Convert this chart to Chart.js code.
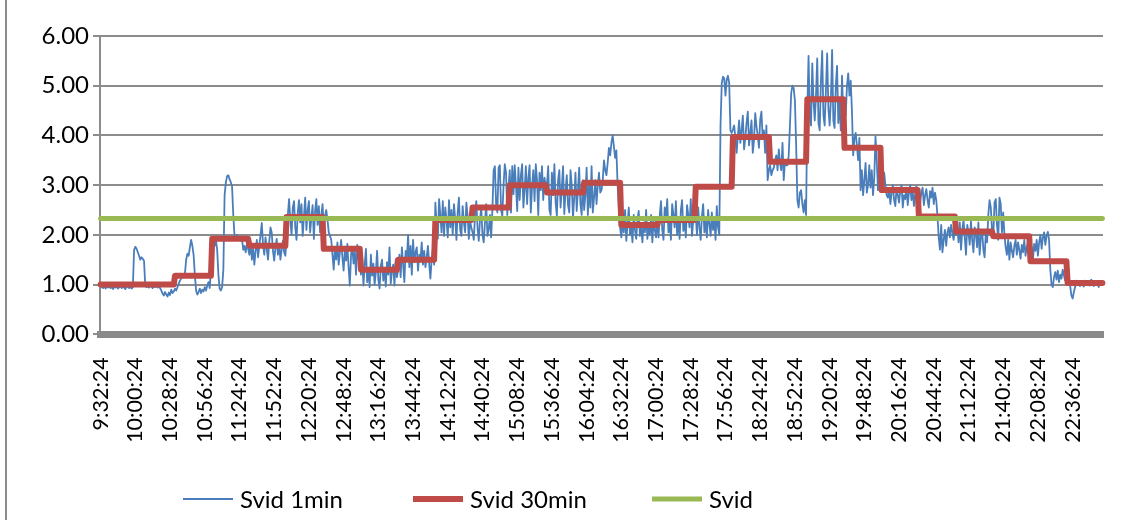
<!DOCTYPE html>
<html>
<head>
<meta charset="utf-8">
<script src="https://cdn.jsdelivr.net/npm/chart.js@4/dist/chart.umd.min.js"></script>
<style>
  html, body { margin: 0; padding: 0; background: #fff; }
  #wrap { position: relative; width: 1129px; height: 520px; }
</style>
</head>
<body>
<div id="wrap"><canvas id="c" width="1129" height="520"></canvas></div>
<script>
// First sample time; one sample per minute after that.
const startTime = '9:32:24';
// A time label is shown every 28 minutes.
const tickEvery = 28;

// Svid, 1-minute values (one row per half hour).
const svid1min = [
  0.98,0.95,0.93,0.97,0.92,0.96,0.94,0.99,0.93,0.95,0.91,0.96,0.94,0.97,0.92,0.95,0.98,0.93,0.96,0.94,0.91,0.97,0.95,0.93,0.96,0.92,0.95,1.70,1.76,1.72,
  1.65,1.58,1.50,1.55,1.52,1.48,0.98,0.95,0.97,0.94,0.99,0.96,0.93,0.97,0.95,0.98,0.94,0.96,0.93,0.88,0.82,0.78,0.85,0.80,0.76,0.84,0.79,0.90,0.83,0.86,
  0.92,0.88,0.95,1.02,1.08,1.12,1.18,1.15,1.22,1.50,1.62,1.58,1.75,1.90,1.78,1.60,1.20,0.88,0.80,0.85,0.92,0.83,0.90,0.86,0.95,0.88,0.98,1.05,0.93,1.30,
  1.65,1.85,1.78,1.90,1.70,1.20,0.92,0.88,0.95,1.30,2.80,3.05,3.18,3.20,3.12,3.06,2.98,2.40,1.98,1.95,2.00,1.92,1.96,1.88,1.94,1.70,1.78,1.65,1.82,1.72,
  1.60,1.85,1.50,1.72,1.40,1.68,1.90,1.55,1.78,2.00,2.24,1.80,1.60,1.95,1.72,1.50,1.85,2.15,2.05,1.68,1.48,1.75,1.92,1.60,1.82,1.50,1.70,1.88,1.65,1.58,
  1.95,2.40,2.72,2.30,2.00,2.55,2.68,2.15,1.90,2.45,2.70,2.25,2.62,1.98,2.38,2.75,2.10,2.50,2.68,2.05,2.35,2.60,1.92,2.48,2.72,2.20,2.58,2.05,2.40,2.62,
  2.15,2.38,2.50,2.30,2.05,1.98,1.90,1.60,1.30,1.75,1.50,1.85,1.40,1.65,1.90,1.55,1.28,1.70,1.48,1.82,1.35,0.98,1.60,1.75,1.42,1.68,1.20,1.80,1.50,1.72,
  1.20,1.55,0.98,1.40,1.72,1.05,1.30,0.95,1.60,1.18,1.42,1.00,1.25,1.68,1.10,0.92,1.38,1.50,1.08,1.32,0.96,1.45,1.20,1.75,1.02,1.28,1.40,0.98,1.50,1.15,
  1.30,1.60,1.15,1.75,1.40,1.05,1.68,1.50,2.00,1.35,1.78,1.20,1.90,1.45,1.65,1.75,1.28,1.60,1.50,1.85,1.40,1.68,1.35,1.55,1.78,1.42,1.12,1.50,1.70,1.40,
  2.65,2.20,1.92,2.72,2.40,2.05,2.68,1.98,2.55,2.30,1.95,2.70,2.15,2.50,2.00,2.62,2.32,1.90,2.45,2.75,2.10,1.98,2.58,2.25,2.05,2.65,2.38,1.92,2.28,2.15,
  2.05,1.90,2.40,2.68,2.15,1.88,2.30,2.55,2.00,1.85,2.25,2.62,1.98,2.10,2.40,1.95,2.50,3.30,3.38,2.62,2.45,3.35,3.40,2.50,2.38,3.00,3.42,3.25,2.40,2.95,
  3.30,2.45,3.38,2.82,3.40,3.00,2.48,3.35,2.70,3.20,3.42,2.55,2.90,3.38,2.62,3.15,3.40,2.45,2.98,3.30,2.68,3.42,3.10,2.40,3.25,2.90,3.38,2.70,3.15,3.00,
  3.00,3.38,2.50,2.40,3.25,2.80,3.42,2.65,2.38,3.10,3.30,2.55,2.95,3.38,2.42,2.88,3.20,2.60,2.45,3.30,3.00,2.35,2.75,3.25,2.48,2.90,3.35,2.62,2.40,3.10,
  2.50,2.80,3.35,2.40,3.00,2.55,3.38,2.45,2.75,3.10,2.62,3.00,3.25,2.85,2.90,3.10,3.50,3.30,3.20,3.45,3.75,3.60,3.85,4.00,3.78,3.55,3.70,3.00,2.50,2.15,
  1.95,2.30,2.05,2.50,1.88,2.22,2.55,2.00,2.15,1.85,2.40,2.10,1.92,2.30,2.48,1.98,2.15,1.85,2.25,2.05,2.50,1.92,2.20,2.00,2.40,1.85,2.28,2.10,1.95,2.35,
  1.95,2.40,2.68,2.10,1.90,2.55,2.30,2.72,2.05,2.25,1.90,2.62,2.40,2.15,2.68,2.00,2.35,1.92,2.50,2.70,2.08,2.32,1.95,2.60,2.40,2.15,2.72,1.98,2.30,2.45,
  2.40,2.00,2.55,2.15,1.90,2.38,2.62,2.05,2.28,1.95,2.50,2.22,1.98,2.45,2.10,2.32,1.90,2.58,2.15,2.00,4.20,5.05,5.18,5.15,4.80,5.12,5.20,5.05,4.10,4.05,
  4.12,4.20,3.95,3.65,4.00,4.30,3.85,4.10,4.40,3.72,3.95,4.25,4.48,3.80,4.05,4.30,3.65,3.90,4.45,4.18,4.00,3.75,4.32,4.48,3.95,4.10,3.65,4.20,3.10,3.30,
  3.40,3.20,3.30,3.35,3.50,3.60,3.30,3.72,3.45,3.30,3.85,3.10,3.50,3.40,3.40,3.60,4.20,4.85,5.00,4.95,4.70,3.80,2.70,2.55,2.85,2.90,2.62,2.45,2.70,2.40,
  4.50,5.60,4.40,4.20,5.45,4.70,4.30,4.80,5.55,4.25,4.10,5.10,5.70,4.40,4.20,4.90,5.65,4.55,4.20,4.70,5.72,4.30,4.15,5.00,5.40,4.25,4.70,4.10,5.20,4.40,
  4.70,4.40,5.00,5.25,4.80,5.10,4.50,3.60,3.95,4.05,3.80,3.50,3.95,2.90,3.30,2.80,3.10,3.45,2.85,3.00,3.40,2.95,3.30,2.80,3.15,3.98,3.50,2.90,3.45,3.00,
  3.60,2.90,3.25,3.00,2.80,2.75,2.90,2.62,2.85,3.00,2.70,2.58,2.95,2.80,2.65,2.90,3.00,2.55,2.80,2.72,2.95,2.60,2.85,3.00,2.70,2.90,2.58,2.82,2.98,2.75,
  2.90,2.65,2.85,2.95,2.60,2.80,2.92,2.70,2.55,2.88,2.75,2.95,2.62,2.85,2.70,2.38,1.95,1.70,2.20,1.65,1.90,2.10,1.78,2.05,2.15,1.95,2.20,2.05,1.90,2.12,
  2.00,2.15,1.85,2.25,1.70,2.10,2.30,1.95,1.60,2.20,2.05,1.80,2.28,1.90,1.65,2.15,2.00,1.75,2.25,1.60,1.95,2.10,1.70,1.55,2.05,1.85,2.40,2.70,2.55,2.10,
  1.95,2.65,2.72,2.20,1.90,2.75,2.62,2.05,2.45,2.00,1.75,1.60,1.90,1.50,1.85,1.68,1.55,1.78,1.90,1.60,1.85,1.70,1.52,1.80,1.65,1.90,1.58,1.75,1.85,1.68,
  1.60,1.75,1.50,1.82,1.68,1.90,1.58,1.85,2.00,1.72,1.95,2.05,1.80,1.98,2.06,1.90,1.30,1.00,0.95,1.15,1.25,1.10,1.28,1.05,1.20,1.12,1.30,1.18,1.08,1.25,
  1.05,1.02,0.98,0.78,0.72,0.85,0.95,1.08,1.00,1.04,0.97,1.06,1.01,0.96,1.08,1.03,0.99,1.05,0.98,1.10,1.02,0.97,1.06,1.00,1.04,0.95,1.02,0.99,1.03
];

// Svid, 30-minute averages (each held for its half hour).
const svid30min = [
  1.00, 1.00, 1.18, 1.92, 1.78, 2.36, 1.72, 1.30, 1.50,
  2.30, 2.55, 3.00, 2.85, 3.05, 2.20, 2.30, 2.97, 3.97,
  3.47, 4.73, 3.75, 2.90, 2.37, 2.07, 1.97, 1.47, 1.03
];
const halfHour = 30;

// Reference Svid level.
const svidLevel = 2.33;

const seriesNames = ['Svid 1min', 'Svid 30min', 'Svid'];
const seriesColors = ['#4A7EBB', '#BE4B48', '#98B954'];

const yMin = 0, yMax = 6, yStep = 1;

function minuteLabels(start, count) {
  const [h, m, s] = start.split(':').map(Number);
  const out = [];
  for (let i = 0; i < count; i++) {
    const t = h * 60 + m + i;
    out.push(Math.floor(t / 60) + ':' + String(t % 60).padStart(2, '0') + ':' + String(s).padStart(2, '0'));
  }
  return out;
}

const n = svid1min.length;
const categories = minuteLabels(startTime, n);
const svid30minSeries = svid30min.flatMap(v => Array(halfHour).fill(v)).slice(0, n);
const svidSeries = categories.map(() => svidLevel);

const FONT = 'Lato';

// White page background and the chart frame edge.
const framePlugin = {
  id: 'frame',
  beforeDraw(chart) {
    const ctx = chart.ctx;
    ctx.save();
    ctx.fillStyle = '#fff';
    ctx.fillRect(0, 0, chart.width, chart.height);
    ctx.strokeStyle = '#8c8c8c';
    ctx.lineWidth = 2;
    ctx.beginPath();
    ctx.moveTo(6, 0);
    ctx.lineTo(6, chart.height);
    ctx.stroke();
    ctx.restore();
  }
};

// Legend row: line sample followed by the series name.
const legendPlugin = {
  id: 'lineLegend',
  afterDraw(chart) {
    const ctx = chart.ctx;
    const slots = [183, 413, 652];
    const y = 499;
    ctx.save();
    chart.data.datasets.forEach((ds, i) => {
      const x = slots[i];
      ctx.strokeStyle = ds.borderColor;
      ctx.lineWidth = ds.borderWidth;
      ctx.lineCap = 'butt';
      ctx.beginPath();
      ctx.moveTo(x, y);
      ctx.lineTo(x + 50, y);
      ctx.stroke();
      ctx.fillStyle = '#000';
      ctx.font = '24px ' + FONT;
      ctx.textBaseline = 'middle';
      ctx.textAlign = 'left';
      ctx.fillText(ds.label, x + 57, y + 1);
    });
    ctx.restore();
  }
};

new Chart(document.getElementById('c'), {
  type: 'line',
  data: {
    labels: categories,
    datasets: [
      { label: seriesNames[0], data: svid1min, borderColor: seriesColors[0], borderWidth: 1.8,
        pointRadius: 0, tension: 0, order: 2, borderJoinStyle: 'round' },
      { label: seriesNames[1], data: svid30minSeries, borderColor: seriesColors[1], borderWidth: 6,
        pointRadius: 0, tension: 0, order: 1, borderJoinStyle: 'round', borderCapStyle: 'round' },
      { label: seriesNames[2], data: svidSeries, borderColor: seriesColors[2], borderWidth: 5,
        pointRadius: 0, tension: 0, order: 0, borderCapStyle: 'round' }
    ]
  },
  options: {
    responsive: false,
    animation: false,
    devicePixelRatio: 1,
    layout: { padding: { left: 0, right: 26, top: 36, bottom: 60 } },
    plugins: { legend: { display: false }, tooltip: { enabled: false } },
    scales: {
      x: {
        type: 'category',
        offset: true,
        grid: { display: false, drawTicks: false },
        border: { display: true, color: '#8a8a8a', width: 7 },
        afterBuildTicks: s => { s.ticks = s.ticks.filter(t => t.value % tickEvery === 0); },
        afterFit: s => { s.height = 125.7; },
        ticks: {
          autoSkip: false, minRotation: 90, maxRotation: 90, padding: 23,
          color: '#000', font: { family: FONT, size: 21.5 }
        }
      },
      y: {
        min: yMin, max: yMax,
        afterFit: s => { s.width = 100; },
        grid: { color: '#8c8c8c', lineWidth: 2, drawTicks: true, tickLength: 7 },
        border: { display: true, color: '#8c8c8c', width: 2 },
        ticks: {
          stepSize: yStep, padding: 4, color: '#000',
          font: { family: FONT, size: 24 },
          callback: v => v.toFixed(2)
        }
      }
    }
  },
  plugins: [framePlugin, legendPlugin]
});
</script>
</body>
</html>
